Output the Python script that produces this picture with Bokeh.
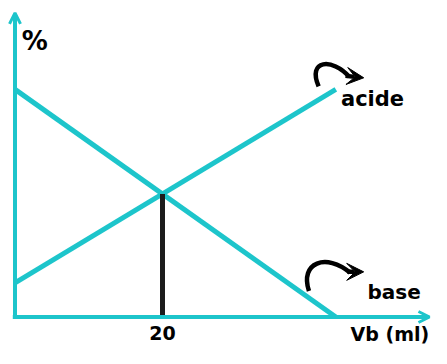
from bokeh.plotting import figure
from bokeh.models import Range1d, Arrow, OpenHead, VeeHead
from bokeh.core.properties import value
from bokeh.embed import file_html
from bokeh.resources import INLINE

# data
vb = [0, 43.5]
acide = [15, 100]
base = [100, 0]
eq_x = 20
eq_y = 54
tick_vals = [20]
tick_labels = ["20"]

TEAL = "#1dc5cb"
FONT = value("DejaVu Sans")

W, H = 431, 348
KX, KY = 7.375, 2.276        # pixels per data unit
OX, OY = 14.5, 316.5         # canvas pixel of the origin
x_start = -OX / KX
y_top = OY / KY
p = figure(width=W, height=H, output_backend="svg", toolbar_location=None,
           x_range=Range1d(x_start, x_start + W / KX),
           y_range=Range1d(y_top - H / KY, y_top),
           min_border=0)
p.axis.visible = False
p.grid.visible = False
p.outline_line_color = None
p.background_fill_color = "white"

# axes as arrows
p.add_layout(Arrow(end=OpenHead(size=11, line_color=TEAL, line_width=3),
                   x_start=0, y_start=-0.8, x_end=0, y_end=133.6,
                   line_color=TEAL, line_width=4))
p.add_layout(Arrow(end=OpenHead(size=11, line_color=TEAL, line_width=3),
                   x_start=-0.3, y_start=0, x_end=56.2, y_end=0,
                   line_color=TEAL, line_width=4))

# series
p.line(vb, acide, line_color=TEAL, line_width=5)
p.line(vb, base, line_color=TEAL, line_width=5)
p.line([eq_x, eq_x], [0, eq_y], line_color="#1c1c1c", line_width=5)

SHIFT = 3.1  # compensates the renderer's baseline offset (data units)

def txt(x, y, s, size, align="left"):
    p.text(x=[x], y=[y + SHIFT], text=[s], text_font=FONT, text_font_style="bold",
           text_font_size=size, text_align=align, text_baseline="alphabetic",
           text_color="black")

# texts
p.text(x=tick_vals, y=[-10.1 + SHIFT], text=tick_labels, text_font=FONT,
       text_font_style="bold", text_font_size="19px", text_align="center",
       text_baseline="alphabetic", text_color="black")
txt(0.91, 118.1, "%", "26px")
txt(vb[-1] + 0.7, 92.8, "acide", "21px")
txt(vb[-1] + 4.3, 7.9, "base", "20px")
txt(45.5, -10.4, "Vb (ml)", "19px")

# curved arrows (decorative); shape offsets in pixels, converted to data units
def curl(xs, ys, c0, c1, end, hs, ht):
    def X(dx): return xs + 0.96 * dx / KX
    def Y(dy): return ys - 0.96 * dy / KY
    p.bezier(x0=[xs], y0=[ys], x1=[X(end[0])], y1=[Y(end[1])],
             cx0=[X(c0[0])], cy0=[Y(c0[1])], cx1=[X(c1[0])], cy1=[Y(c1[1])],
             line_color="black", line_width=4.5)
    p.add_layout(Arrow(end=VeeHead(size=17, fill_color="black", line_color="black"),
                       x_start=X(hs[0]), y_start=Y(hs[1]), x_end=X(ht[0]), y_end=Y(ht[1]),
                       line_color="black", line_width=4.5))

curl(41.17, 101.3, (-12, -28), (14, -30), (32, -10), (28, -11), (47, -9))
curl(39.86, 11.4, (-10, -30), (18, -40), (43, -19), (40, -20), (57, -20))

open("out.html", "w").write(file_html(p, INLINE))
